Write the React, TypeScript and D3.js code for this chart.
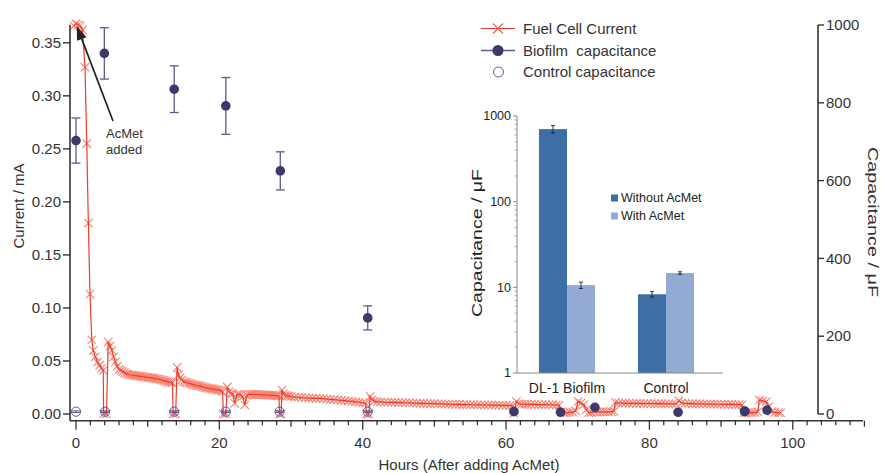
import React from "react";
import * as d3 from "d3";

// ---------------- DATA ----------------
// Fuel cell current [hours, mA]
const currentData: [number, number][] = [
  [-0.3, 0.366], [0, 0.368], [0.3, 0.367], [0.6, 0.366], [0.9, 0.362], [1.25, 0.327], [1.5, 0.255], [1.72, 0.18], [1.95, 0.113],
  [2.2, 0.07], [2.4, 0.06], [2.7, 0.054], [3.0, 0.049], [3.3, 0.046], [3.55, 0.043], [3.8, 0.041],
  [3.85, 0.0], [4.25, 0.0],
  [4.5, 0.068], [4.75, 0.064], [5.0, 0.06], [5.25, 0.054], [5.5, 0.049], [5.75, 0.045], [6.0, 0.042], [6.25, 0.041], [6.5, 0.04],
  [6.75, 0.039], [7.0, 0.038], [7.25, 0.0375], [7.5, 0.037], [7.75, 0.0368], [8.0, 0.0365], [8.25, 0.0362], [8.5, 0.036],
  [8.75, 0.0358], [9.0, 0.0355], [9.25, 0.0352], [9.5, 0.035], [9.75, 0.0348], [10.0, 0.0345], [10.25, 0.0343], [10.5, 0.034],
  [10.75, 0.0338], [11.0, 0.0335], [11.25, 0.0332], [11.5, 0.033], [11.75, 0.0325], [12.0, 0.032], [12.25, 0.0315], [12.5, 0.031],
  [12.75, 0.0305], [13.0, 0.03], [13.25, 0.0298], [13.45, 0.0295],
  [13.55, 0.0], [13.9, 0.0],
  [14.1, 0.044], [14.3, 0.037], [14.5, 0.034], [14.75, 0.032], [15.0, 0.0305], [15.25, 0.03], [15.5, 0.0295], [15.75, 0.029],
  [16.0, 0.0285], [16.25, 0.028], [16.5, 0.0275], [16.75, 0.027], [17.0, 0.0268], [17.25, 0.0265], [17.5, 0.026], [17.75, 0.0255],
  [18.0, 0.025], [18.25, 0.0247], [18.5, 0.0243], [18.75, 0.024], [19.0, 0.0237], [19.25, 0.0234], [19.5, 0.023], [19.75, 0.0228],
  [20.0, 0.0225], [20.25, 0.022], [20.45, 0.021],
  [20.55, 0.0], [20.9, 0.0],
  [21.1, 0.0255], [21.35, 0.021], [21.6, 0.0195], [21.85, 0.019], [22.15, 0.01], [22.45, 0.0185], [22.75, 0.0185], [23.0, 0.018],
  [23.25, 0.0165], [23.55, 0.0085], [23.85, 0.0175], [24.1, 0.0185], [24.35, 0.0185], [24.6, 0.0185], [24.85, 0.0185],
  [25.1, 0.0184], [25.35, 0.0183], [25.6, 0.0182], [25.85, 0.0181], [26.1, 0.018], [26.35, 0.018], [26.6, 0.0179], [26.85, 0.0178],
  [27.1, 0.0177], [27.35, 0.0176], [27.6, 0.0175], [27.85, 0.0174], [28.1, 0.0172], [28.3, 0.017],
  [28.4, 0.0], [28.6, 0.0],
  [28.75, 0.0225], [28.95, 0.019], [29.2, 0.0175], [29.45, 0.017], [29.7, 0.0168], [30.0, 0.0165], [30.5, 0.016], [31.0, 0.0158],
  [31.5, 0.0155], [32.0, 0.0153], [32.5, 0.015], [33.0, 0.0149], [33.5, 0.0148], [34.0, 0.0147], [34.5, 0.0145], [35.0, 0.0141],
  [35.5, 0.0138], [36.0, 0.0135], [36.5, 0.0132], [37.0, 0.0129], [37.5, 0.0126], [38.0, 0.0122], [38.5, 0.0119], [39.0, 0.0115],
  [39.5, 0.0111], [40.0, 0.0106], [40.4, 0.0102],
  [40.55, 0.0], [40.85, 0.0],
  [41.05, 0.0165], [41.3, 0.0135], [41.6, 0.012], [42.0, 0.0116], [42.5, 0.0114], [43.0, 0.0112], [43.5, 0.0111], [44.0, 0.011],
  [44.5, 0.0109], [45.0, 0.0108], [45.5, 0.0107], [46.0, 0.0106], [46.5, 0.0105], [47.0, 0.0103], [47.5, 0.0102], [48.0, 0.0101],
  [48.5, 0.01], [49.0, 0.0099], [49.5, 0.0098], [50.0, 0.0097], [50.5, 0.0096], [51.0, 0.0095], [51.5, 0.0094], [52.0, 0.0093],
  [52.5, 0.0092], [53.0, 0.0091], [53.5, 0.009], [54.0, 0.0089], [54.5, 0.0088], [55.0, 0.0087], [55.5, 0.0087], [56.0, 0.0086],
  [56.5, 0.0086], [57.0, 0.0085], [57.5, 0.0085], [58.0, 0.0084], [58.5, 0.0084], [59.0, 0.0083], [59.5, 0.0082], [60.0, 0.0081],
  [60.5, 0.008], [60.9, 0.0078],
  [61.1, 0.0008], [61.45, 0.0118], [61.8, 0.0095], [62.2, 0.0092], [62.6, 0.0092], [63.0, 0.0091], [63.5, 0.009], [64.0, 0.009],
  [64.5, 0.0089], [65.0, 0.0088], [65.5, 0.0088], [66.0, 0.0087], [66.5, 0.0086], [67.0, 0.0085], [67.4, 0.0084],
  [67.7, 0.002], [68.1, 0.0012], [68.5, 0.0012], [68.9, 0.0015], [69.3, 0.0018], [69.7, 0.003], [70.05, 0.0118], [70.45, 0.0102],
  [70.85, 0.0088], [71.2, 0.004], [71.55, 0.0012], [71.9, 0.0015], [72.3, 0.002], [72.7, 0.002], [73.1, 0.002], [73.5, 0.002],
  [73.9, 0.002], [74.3, 0.002], [74.7, 0.0022], [75.05, 0.0025], [75.25, 0.0108], [75.7, 0.0104], [76.2, 0.0103], [76.7, 0.0102],
  [77.2, 0.0101], [77.7, 0.0101], [78.2, 0.01], [78.7, 0.01], [79.2, 0.0099], [79.7, 0.0099], [80.2, 0.0098], [80.7, 0.0098],
  [81.2, 0.0097], [81.7, 0.0097], [82.2, 0.0096], [82.7, 0.0096], [83.2, 0.0095], [83.7, 0.0094], [84.1, 0.0125], [84.5, 0.0105],
  [85.0, 0.0099], [85.5, 0.0098], [86.0, 0.0097], [86.5, 0.0096], [87.0, 0.0096], [87.5, 0.0095], [88.0, 0.0094], [88.5, 0.0094],
  [89.0, 0.0093], [89.5, 0.0092], [90.0, 0.0092], [90.5, 0.0091], [91.0, 0.009], [91.5, 0.009], [92.0, 0.0089], [92.5, 0.0088],
  [92.9, 0.0087],
  [93.15, 0.0012], [93.5, 0.0012], [93.9, 0.0013], [94.3, 0.0013], [94.7, 0.0014], [95.1, 0.002], [95.35, 0.0132], [95.8, 0.0124],
  [96.3, 0.0116], [96.7, 0.007], [97.05, 0.002], [97.5, 0.0015], [98.0, 0.0013], [98.3, 0.0012],
];

// Biofilm capacitance (µF) with error bars
const biofilmHours = [0, 3.95, 13.7, 20.9, 28.5, 40.7, 61.1, 67.6, 72.4, 84.0, 93.3, 96.4];
const biofilmCap = [703, 927, 835, 792, 625, 247, 6, 4.5, 17, 4.5, 6, 10];
const biofilmErr = [58, 66, 60, 73, 49, 31, 0, 0, 0, 0, 0, 0];

// Control capacitance (µF)
const controlHours = [0, 4.05, 13.7, 20.9, 28.4, 40.7, 93.3];
const controlCap = [6, 6, 6, 6, 6, 6, 8];
const controlErr = [2, 2, 2, 2, 2, 2, 2];

// Axis ticks
const currentTicks = [0, 0.05, 0.1, 0.15, 0.2, 0.25, 0.3, 0.35];
const capTicks = [0, 200, 400, 600, 800, 1000];
const hourLabels = [0, 20, 40, 60, 80, 100];

// Inset bar chart
const insetCategories = ["DL-1 Biofilm", "Control"];
const insetSeries = ["Without AcMet", "With AcMet"];
const withoutAcMet = [703, 8.3];
const withoutAcMetErr = [70, 0.6];
const withAcMet = [10.6, 14.7];
const withAcMetErr = [0.9, 0.5];
const insetTicks = [1, 10, 100, 1000];

// ---------------- STYLE ----------------
const FONT = "'Liberation Sans', Arial, Helvetica, sans-serif";
const AX = "#333";
const RED = "#ee3a2a";
const RED_M = "#f4644f";
const NAVY = "#3c3a6c";
const NAVY_E = "#5b5a8e";
const DARK_BAR = "#3d6ea6";
const LIGHT_BAR = "#93abd4";

export default function App() {
  const W = 882, H = 473;
  const x = d3.scaleLinear().domain([-0.84, 109.8]).range([70, 863]);
  const yL = d3.scaleLinear().domain([0, 0.35]).range([414, 42.8]);
  const yR = d3.scaleLinear().domain([0, 1000]).range([414, 25]);
  const axisY = 420.7;

  const line = d3.line<[number, number]>().x(d => x(d[0])).y(d => yL(d[1]));

  const minorHours = d3.range(0, 111, 2);

  // inset scales
  const ib = d3.scaleBand<string>().domain(insetCategories).range([517, 716]).paddingInner(0.434).paddingOuter(0.222);
  const isub = d3.scaleBand<string>().domain(insetSeries).range([0, ib.bandwidth()]);
  const iy = d3.scaleLog().domain([1, 1000]).range([373, 116]);
  const minorLog: number[] = [];
  [1, 10, 100].forEach(dec => { for (let k = 2; k <= 9; k++) minorLog.push(dec * k); });
  const insetVals = [withoutAcMet, withAcMet];
  const insetErrs = [withoutAcMetErr, withAcMetErr];
  const insetColors = [DARK_BAR, LIGHT_BAR];

  const xMark = (s: number) => `M${-s},${-s}L${s},${s}M${-s},${s}L${s},${-s}`;

  // annotation arrow
  const tipX = x(0.1), tipY = yL(0.366);
  const tailX = 113, tailY = 121;
  const ang = Math.atan2(tipY - tailY, tipX - tailX);
  const ah = 14, aw = 5;
  const bx = tipX - ah * Math.cos(ang), by = tipY - ah * Math.sin(ang);
  const head = `M${tipX},${tipY}L${bx + aw * Math.sin(ang)},${by - aw * Math.cos(ang)}L${bx - aw * Math.sin(ang)},${by + aw * Math.cos(ang)}Z`;

  return (
    <svg width={W} height={H} style={{ position: "absolute", left: 0, top: 0, background: "#fff" }} fontFamily={FONT}>
      {/* current line + markers */}
      <g stroke={RED_M} strokeWidth={1.1} opacity={0.8}>
        {currentData.map((d, i) => (
          <path key={i} d={xMark(4.2)} transform={`translate(${x(d[0])},${yL(d[1])})`} />
        ))}
      </g>
      <path d={line(currentData) || ""} fill="none" stroke={RED} strokeWidth={1.2} />

      {/* control capacitance */}
      <g stroke={NAVY_E} fill="none" strokeWidth={1}>
        {controlHours.map((h, i) => {
          const cx = x(h), cy = yR(controlCap[i]);
          const t = yR(controlCap[i] + controlErr[i]), b = yR(controlCap[i] - controlErr[i]);
          return (
            <g key={i}>
              <line x1={cx} x2={cx} y1={t} y2={b} />
              <line x1={cx - 4.5} x2={cx + 4.5} y1={t} y2={t} />
              <line x1={cx - 4.5} x2={cx + 4.5} y1={b} y2={b} />
              <circle cx={cx} cy={cy} r={4.6} />
            </g>
          );
        })}
      </g>

      {/* biofilm capacitance */}
      <g>
        {biofilmHours.map((h, i) => {
          const cx = x(h), cy = yR(biofilmCap[i]);
          const e = biofilmErr[i];
          return (
            <g key={i}>
              {e > 0 && (
                <g stroke={NAVY_E} strokeWidth={1.3}>
                  <line x1={cx} x2={cx} y1={yR(biofilmCap[i] + e)} y2={yR(biofilmCap[i] - e)} />
                  <line x1={cx - 4.5} x2={cx + 4.5} y1={yR(biofilmCap[i] + e)} y2={yR(biofilmCap[i] + e)} />
                  <line x1={cx - 4.5} x2={cx + 4.5} y1={yR(biofilmCap[i] - e)} y2={yR(biofilmCap[i] - e)} />
                </g>
              )}
              <circle cx={cx} cy={cy} r={4.8} fill={NAVY} />
            </g>
          );
        })}
      </g>

      {/* left axis */}
      <line x1={70} x2={70} y1={yL(0.367)} y2={axisY} stroke={AX} strokeWidth={1.6} />
      {currentTicks.map(t => (
        <g key={t}>
          <line x1={63} x2={70} y1={yL(t)} y2={yL(t)} stroke={AX} strokeWidth={1.4} />
          <text x={61} y={yL(t)} dy="0.35em" textAnchor="end" fontSize={15} fill={AX}>{d3.format(".2f")(t)}</text>
        </g>
      ))}
      <text transform={`translate(19,206) rotate(-90)`} textAnchor="middle" dy="0.35em" fontSize={15} fill={AX}>Current / mA</text>

      {/* bottom axis */}
      <line x1={70} x2={863} y1={axisY} y2={axisY} stroke={AX} strokeWidth={1.6} />
      {minorHours.map(h => (
        <line key={h} x1={x(h)} x2={x(h)} y1={axisY} y2={axisY + (h % 20 === 0 ? 9 : h % 10 === 0 ? 6 : 4.5)} stroke={AX} strokeWidth={1.3} />
      ))}
      {hourLabels.map(h => (
        <text key={h} x={x(h)} y={443} dy="0.35em" textAnchor="middle" fontSize={15} fill={AX}>{h}</text>
      ))}
      <text x={469} y={465} dy="0.35em" textAnchor="middle" fontSize={15} fill={AX}>Hours (After adding AcMet)</text>

      {/* right axis */}
      <line x1={818} x2={818} y1={yR(1000)} y2={yR(0)} stroke={AX} strokeWidth={1.6} />
      {capTicks.map(t => (
        <g key={t}>
          <line x1={818} x2={824} y1={yR(t)} y2={yR(t)} stroke={AX} strokeWidth={1.4} />
          <text x={826} y={yR(t)} dy="0.35em" fontSize={15} fill={AX}>{t}</text>
        </g>
      ))}
      <text transform={`translate(873,222) rotate(90)`} textAnchor="middle" dy="0.35em" fontSize={15}
        textLength={150} lengthAdjust="spacingAndGlyphs" fill={AX}>Capacitance / μF</text>

      {/* annotation */}
      <line x1={tailX} y1={tailY} x2={bx} y2={by} stroke="#222" strokeWidth={1.7} />
      <path d={head} fill="#222" />
      <text x={106} y={133} dy="0.35em" fontSize={13} fill={AX}>AcMet</text>
      <text x={106} y={149} dy="0.35em" fontSize={13} fill={AX}>added</text>

      {/* legend */}
      <g fontSize={15} fill={AX}>
        <line x1={481} x2={515} y1={28.5} y2={28.5} stroke={RED} strokeWidth={1.2} />
        <path d={xMark(5)} transform="translate(498,28.5)" stroke={RED_M} strokeWidth={1.2} />
        <text x={523} y={28.5} dy="0.35em">Fuel Cell Current</text>
        <line x1={481} x2={515} y1={50.5} y2={50.5} stroke={NAVY_E} strokeWidth={1.3} />
        <circle cx={498} cy={50.5} r={5.5} fill={NAVY} />
        <text x={523} y={50.5} dy="0.35em" style={{ whiteSpace: "pre" }}>{"Biofilm  capacitance"}</text>
        <circle cx={498.5} cy={72} r={5} fill="none" stroke={NAVY_E} strokeWidth={1} />
        <text x={523} y={72} dy="0.35em">Control capacitance</text>
      </g>

      {/* inset */}
      <g>
        {insetCategories.map((c, ci) => (
          <g key={c}>
            {insetSeries.map((s, si) => {
              const v = insetVals[si][ci], e = insetErrs[si][ci];
              const bx0 = (ib(c) || 0) + (isub(s) || 0);
              const bw = isub.bandwidth();
              const cx = bx0 + bw / 2;
              return (
                <g key={s}>
                  <rect x={bx0} y={iy(v)} width={bw} height={iy(1) - iy(v)} fill={insetColors[si]} />
                  <g stroke="#222" strokeWidth={0.9}>
                    <line x1={cx} x2={cx} y1={iy(v + e)} y2={iy(v - e)} />
                    <line x1={cx - 2} x2={cx + 2} y1={iy(v + e)} y2={iy(v + e)} />
                    <line x1={cx - 2} x2={cx + 2} y1={iy(v - e)} y2={iy(v - e)} />
                  </g>
                </g>
              );
            })}
            <text x={(ib(c) || 0) + ib.bandwidth() / 2} y={388} dy="0.35em" textAnchor="middle" fontSize={14} fill="#222">{c}</text>
          </g>
        ))}
        <line x1={517} x2={517} y1={iy(1000)} y2={iy(1)} stroke="#888" strokeWidth={1} />
        <line x1={517} x2={723} y1={iy(1)} y2={iy(1)} stroke="#888" strokeWidth={1} />
        {minorLog.map(t => (
          <line key={t} x1={514.5} x2={517} y1={iy(t)} y2={iy(t)} stroke="#999" strokeWidth={0.8} />
        ))}
        {insetTicks.map(t => (
          <g key={t}>
            <line x1={513} x2={517} y1={iy(t)} y2={iy(t)} stroke="#888" strokeWidth={1} />
            <text x={511} y={iy(t)} dy="0.35em" textAnchor="end" fontSize={12.5} fill="#222">{t}</text>
          </g>
        ))}
        <text transform={`translate(477,243) rotate(-90)`} textAnchor="middle" dy="0.35em" fontSize={15}
          textLength={148} lengthAdjust="spacingAndGlyphs" fill="#222">Capacitance / μF</text>
        {insetSeries.map((s, si) => (
          <g key={s}>
            <rect x={611} y={(si === 0 ? 198 : 216) - 3.5} width={7} height={7} fill={insetColors[si]} />
            <text x={621} y={si === 0 ? 198 : 216} dy="0.35em" fontSize={12.5} fill="#222">{s}</text>
          </g>
        ))}
      </g>
    </svg>
  );
}
